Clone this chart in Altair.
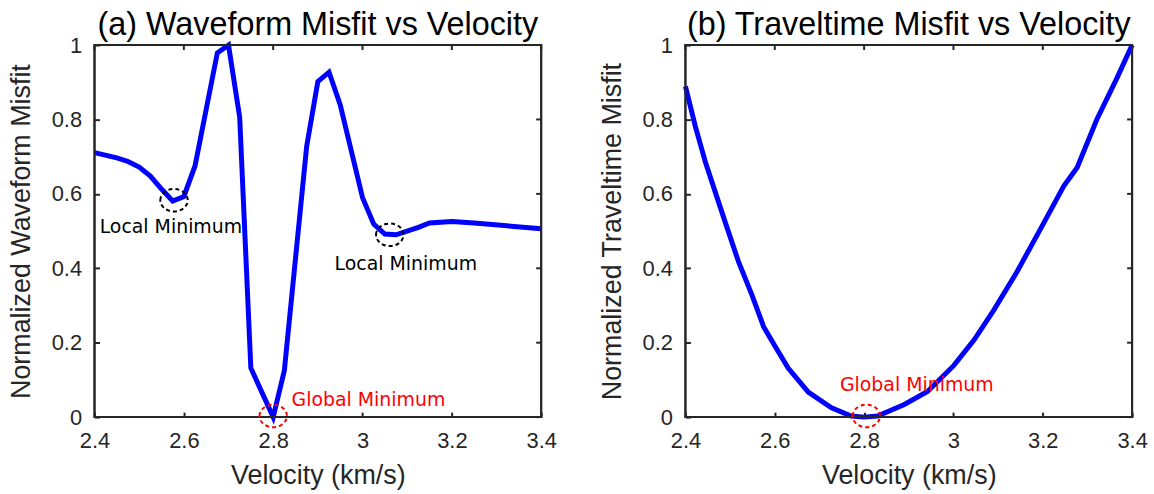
import altair as alt
import pandas as pd

# Waveform misfit sampled against trial velocity (km/s)
wave_v = [2.40, 2.45, 2.475, 2.50, 2.525, 2.55, 2.575, 2.60, 2.625, 2.675, 2.70,
          2.725, 2.75, 2.80, 2.825, 2.875, 2.90, 2.925, 2.95, 3.00, 3.025, 3.05,
          3.075, 3.125, 3.15, 3.20, 3.25, 3.40]
wave_misfit = [0.711, 0.697, 0.687, 0.672, 0.648, 0.613, 0.581, 0.593, 0.675, 0.979, 1.000,
               0.806, 0.132, 0.000, 0.125, 0.728, 0.902, 0.927, 0.840, 0.590, 0.519, 0.492,
               0.490, 0.510, 0.522, 0.526, 0.522, 0.506]

# Traveltime misfit sampled against trial velocity (km/s)
tt_v = [2.40, 2.422, 2.445, 2.467, 2.489, 2.519, 2.549, 2.575, 2.601, 2.630, 2.675,
        2.727, 2.771, 2.80, 2.830, 2.890, 2.942, 3.001, 3.046, 3.090, 3.142, 3.195,
        3.247, 3.277, 3.321, 3.366, 3.40]
tt_misfit = [0.889, 0.782, 0.684, 0.604, 0.524, 0.417, 0.328, 0.243, 0.190, 0.132, 0.067,
             0.025, 0.003, 0.000, 0.003, 0.034, 0.069, 0.139, 0.207, 0.287, 0.390, 0.506,
             0.621, 0.671, 0.800, 0.911, 1.000]

# Highlighted minima: (velocity, misfit, kind)
wave_marks_v = [2.578, 3.061, 2.800]
wave_marks_y = [0.583, 0.490, 0.003]
wave_marks_kind = ["local", "local", "global"]
tt_marks_v = [2.805]
tt_marks_y = [0.003]
tt_marks_kind = ["global"]

# Annotation labels
wave_text = ["Local Minimum", "Local Minimum", "Global Minimum"]
wave_text_v = [2.571, 3.097, 2.841]
wave_text_y = [0.512, 0.412, 0.045]
wave_text_kind = ["local", "local", "global"]
wave_text_align = ["center", "center", "left"]
tt_text = ["Global Minimum"]
tt_text_v = [2.918]
tt_text_y = [0.087]
tt_text_kind = ["global"]
tt_text_align = ["center"]

x_ticks = [2.4, 2.6, 2.8, 3.0, 3.2, 3.4]
y_ticks = [0, 0.2, 0.4, 0.6, 0.8, 1.0]

W, H = 449, 374
AX = "#262626"
FONT = "Liberation Sans"
ANN_FONT = "DejaVu Sans"
ELLIPSE = "M -1 0 A 1 0.82 0 1 1 1 0 A 1 0.82 0 1 1 -1 0 Z"
TICK = 5
LW = 2

kind_scale = alt.Scale(domain=["local", "global"], range=["black", "red"])
x_scale = alt.Scale(domain=[2.4, 3.4], nice=False, zero=False)
y_scale = alt.Scale(domain=[0, 1], nice=False)

axis_style = dict(
    domain=False, grid=False, ticks=True, tickSize=TICK, tickColor=AX, tickWidth=LW,
    offset=-TICK, format="~g", labelFlush=False,
    labelFont=FONT, labelFontSize=22, labelColor=AX,
    titleFont=FONT, titleFontSize=27, titleFontWeight="normal", titleColor=AX,
)


def panel(v, m, mv, my, mk, tv, ty, tt, tk, ta, title, ytitle):
    line_df = pd.DataFrame({"v": v, "m": m})
    marks_df = pd.DataFrame({"v": mv, "m": my, "kind": mk})
    text_df = pd.DataFrame({"v": tv, "m": ty, "label": tt, "kind": tk, "align": ta})

    # bottom/left axes sit just inside the frame so their ticks point inward
    line = alt.Chart(line_df).mark_line(color="#0000FF", strokeWidth=5).encode(
        x=alt.X("v:Q", scale=x_scale,
                axis=alt.Axis(values=x_ticks, title="Velocity (km/s)",
                              labelPadding=14, titlePadding=11, **axis_style)),
        y=alt.Y("m:Q", scale=y_scale,
                axis=alt.Axis(values=y_ticks, title=ytitle,
                              labelPadding=13, titlePadding=16, **axis_style)),
    )

    circles = alt.Chart(marks_df).mark_point(
        shape=ELLIPSE, filled=False, size=760, strokeWidth=2, strokeDash=[4, 3], opacity=1
    ).encode(
        x="v:Q", y="m:Q",
        color=alt.Color("kind:N", scale=kind_scale, legend=None),
    )

    labels = []
    for al in ["center", "left"]:
        sub = text_df[text_df["align"] == al]
        if len(sub) == 0:
            continue
        labels.append(
            alt.Chart(sub).mark_text(font=ANN_FONT, fontSize=19, align=al,
                                     baseline="middle").encode(
                x="v:Q", y="m:Q", text="label:N",
                color=alt.Color("kind:N", scale=kind_scale, legend=None),
            )
        )

    # plot frame
    frame = alt.Chart(pd.DataFrame({"f": [0]})).mark_rect(
        fillOpacity=0, stroke=AX, strokeWidth=LW
    ).encode(x=alt.value(0), x2=alt.value(W), y=alt.value(0), y2=alt.value(H))

    # inward ticks on the top and right edges
    xt = pd.DataFrame({"t": x_ticks})
    yt = pd.DataFrame({"t": y_ticks})
    tick_top = alt.Chart(xt).mark_rule(color=AX, strokeWidth=LW).encode(
        x="t:Q", y=alt.value(0), y2=alt.value(TICK))
    tick_right = alt.Chart(yt).mark_rule(color=AX, strokeWidth=LW).encode(
        y="t:Q", x=alt.value(W), x2=alt.value(W - TICK))

    return alt.layer(
        line, frame, tick_top, tick_right, circles, *labels
    ).properties(
        width=W, height=H,
        view=alt.ViewBackground(stroke=AX, strokeWidth=LW),
        title=alt.TitleParams(title, font=FONT, fontSize=32.5, fontWeight="normal",
                              color="black", anchor="middle", offset=-7),
    )


left = panel(wave_v, wave_misfit, wave_marks_v, wave_marks_y, wave_marks_kind,
             wave_text_v, wave_text_y, wave_text, wave_text_kind, wave_text_align,
             "(a) Waveform Misfit vs Velocity", "Normalized Waveform Misfit")
right = panel(tt_v, tt_misfit, tt_marks_v, tt_marks_y, tt_marks_kind,
              tt_text_v, tt_text_y, tt_text, tt_text_kind, tt_text_align,
              "(b) Traveltime Misfit vs Velocity", "Normalized Traveltime Misfit")

chart = alt.hconcat(left, right, spacing=39).properties(
    padding={"left": 6, "top": 6, "right": 5, "bottom": 2},
    background="white",
)

chart.save("out.html", embed_options={"renderer": "svg", "actions": False})
